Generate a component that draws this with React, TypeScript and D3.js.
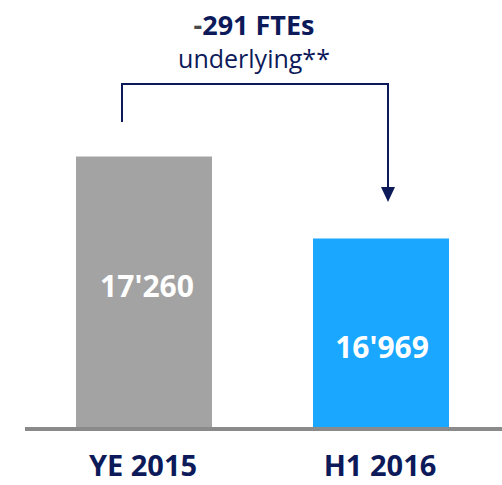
import React from "react";
import * as d3 from "d3";

const categories = ["YE 2015", "H1 2016"];
const values = [17260, 16969];
const valueLabels = ["17'260", "16'969"];
const barColors = ["#a3a3a3", "#1aa7ff"];
const deltaLabel = "-291 FTEs";
const deltaSub = "underlying**";

const W = 502;
const H = 485;
const NAVY = "#0c1a5a";

export default function App() {
  const x = d3.scaleBand<string>().domain(categories).range([76, 449]).paddingInner(0.4262).paddingOuter(0);
  const y = d3.scaleLinear().domain([16300, 17300]).range([427, 427 - 1000 / 3.549]);
  const bw = x.bandwidth();
  const x0 = x(categories[0])!;
  const x1 = x(categories[1])!;
  const bx1 = x0 + 46;
  const bx2 = x1 + 75;
  const font = "'Open Sans', sans-serif";
  return (
    <svg width={W} height={H} style={{ position: "absolute", left: 0, top: 0 }}>
      <rect x={0} y={0} width={W} height={H} fill="#fff" />
      {categories.map((c, i) => (
        <rect key={c} x={x(c)} y={y(values[i])} width={bw} height={y(16300) - y(values[i])} fill={barColors[i]} />
      ))}
      <line x1={25} x2={W} y1={429} y2={429} stroke="#8a8a8a" strokeWidth={4} />
      {categories.map((c, i) => (
        <text key={c} x={x(c)! + bw / 2 - 1} y={476} textAnchor="middle" fontFamily={font} fontWeight={700} fontSize={29} fill={NAVY}>
          {c}
        </text>
      ))}
      <text x={x0 + bw / 2 + 3} y={297} textAnchor="middle" fontFamily={font} fontWeight={700} fontSize={30} fill="#fff">
        {valueLabels[0]}
      </text>
      <text x={x1 + bw / 2 + 1} y={358} textAnchor="middle" fontFamily={font} fontWeight={700} fontSize={30} fill="#fff">
        {valueLabels[1]}
      </text>
      <path d={`M${bx1},122 V84 H${bx2} V190`} fill="none" stroke={NAVY} strokeWidth={2} />
      <path d={`M${bx2 - 7},187 L${bx2 + 7},187 L${bx2},202 Z`} fill={NAVY} />
      <text x={254} y={35} textAnchor="middle" fontFamily={font} fontWeight={700} fontSize={27} fill={NAVY}>
        <tspan fill="#4a4a4a">{deltaLabel.slice(0, 1)}</tspan>
        {deltaLabel.slice(1)}
      </text>
      <text x={254} y={68} textAnchor="middle" fontFamily={font} fontWeight={400} fontSize={25} fill={NAVY}>
        {deltaSub}
      </text>
    </svg>
  );
}
